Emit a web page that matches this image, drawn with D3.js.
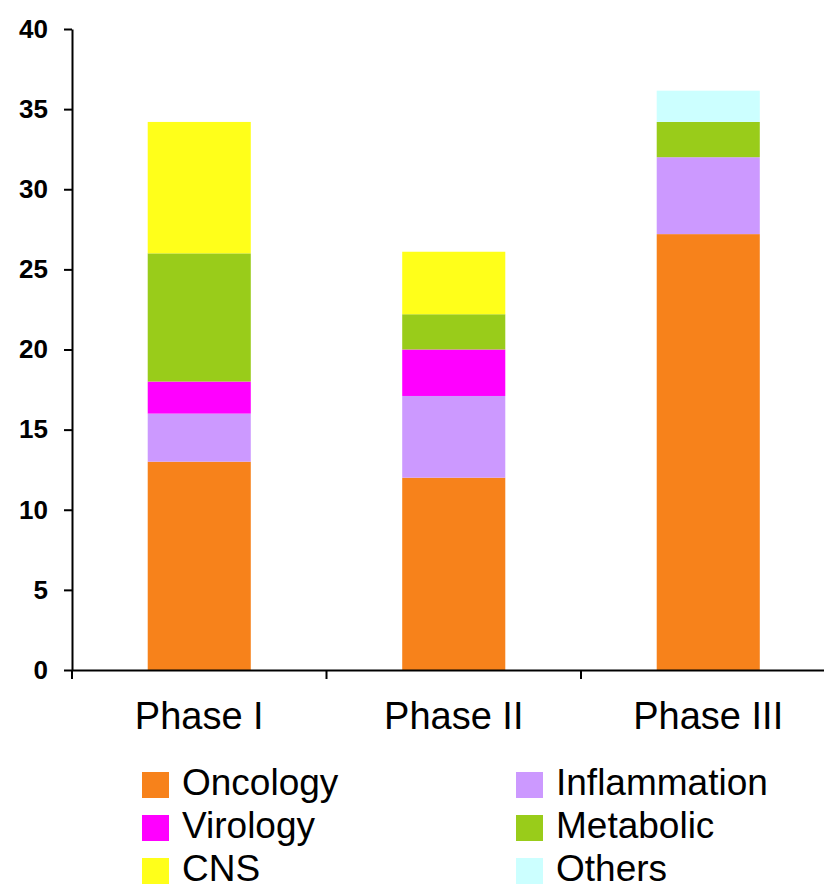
<!DOCTYPE html>
<html>
<head>
<meta charset="utf-8">
<script src="https://cdn.jsdelivr.net/npm/d3@7"></script>
<style>
  html, body { margin: 0; padding: 0; background: #fff; }
  svg { display: block; }
</style>
</head>
<body>
<svg id="chart" width="824" height="890"></svg>
<script>
const categories = ["Phase I", "Phase II", "Phase III"];
const seriesNames = ["Oncology", "Inflammation", "Virology", "Metabolic", "CNS", "Others"];
const oncology = [13, 12, 27.2];
const inflammation = [3, 5.1, 4.8];
const virology = [2, 2.9, 0];
const metabolic = [8, 2.2, 2.2];
const cns = [8.2, 3.9, 0];
const others = [0, 0, 1.95];
const yTicks = [0, 5, 10, 15, 20, 25, 30, 35, 40];
const colors = ["#F7821B", "#CC99FF", "#FF00FF", "#99CC1A", "#FFFF1A", "#CCFFFF"];

const seriesValues = [oncology, inflammation, virology, metabolic, cns, others];
const table = categories.map((c, i) => {
  const row = { category: c };
  seriesNames.forEach((s, j) => { row[s] = seriesValues[j][i]; });
  return row;
});

const svg = d3.select("#chart");
const x0 = 72, x1 = 835.5;
const x = d3.scaleBand().domain(categories).range([x0, x1]).padding(0);
const y = d3.scaleLinear().domain([0, 40]).range([670, 29]);
const color = d3.scaleOrdinal().domain(seriesNames).range(colors);
const barFrac = 0.405;

const stacked = d3.stack().keys(seriesNames)(table);

svg.append("g").selectAll("g").data(stacked).join("g")
  .attr("fill", d => color(d.key))
  .selectAll("rect").data(d => d).join("rect")
  .attr("x", d => x(d.data.category) + x.bandwidth() * (1 - barFrac) / 2)
  .attr("width", x.bandwidth() * barFrac)
  .attr("y", d => y(d[1]))
  .attr("height", d => y(d[0]) - y(d[1]));

// Y axis
const yAxis = svg.append("g").attr("transform", `translate(${x0},0)`)
  .call(d3.axisLeft(y).tickValues(yTicks).tickSize(8).tickPadding(16).tickSizeOuter(0));
yAxis.select(".domain").attr("stroke", "#000").attr("stroke-width", 2);
yAxis.selectAll(".tick line").attr("stroke", "#000").attr("stroke-width", 2);
yAxis.selectAll(".tick text")
  .attr("fill", "#000")
  .style("font-family", "'Liberation Sans', Arial, sans-serif")
  .style("font-weight", "bold")
  .style("font-size", "26px");

// X axis
const xAxis = svg.append("g").attr("transform", "translate(0,670)")
  .call(d3.axisBottom(x).tickSize(0).tickSizeOuter(0).tickPadding(0));
xAxis.select(".domain").attr("stroke", "#000").attr("stroke-width", 2);
xAxis.selectAll(".tick text").remove();
// category boundary ticks
const boundaries = categories.map(c => x(c));
svg.append("g").selectAll("line").data(boundaries).join("line")
  .attr("x1", d => d).attr("x2", d => d)
  .attr("y1", 670).attr("y2", 679)
  .attr("stroke", "#000").attr("stroke-width", 2);
// category labels
svg.append("g").selectAll("text").data(categories).join("text")
  .attr("x", d => x(d) + x.bandwidth() / 2)
  .attr("y", 729)
  .attr("text-anchor", "middle")
  .style("font-family", "'Liberation Sans', Arial, sans-serif")
  .style("font-size", "38px")
  .attr("fill", "#000")
  .text(d => d);

// Legend
const legendCols = [142, 516];
const legendRows = [795, 838, 881];
const legend = svg.append("g").selectAll("g").data(seriesNames).join("g")
  .attr("transform", (d, i) => `translate(${legendCols[i % 2]},${legendRows[Math.floor(i / 2)]})`);
legend.append("rect")
  .attr("x", 0).attr("y", -23).attr("width", 27).attr("height", 26)
  .attr("fill", d => color(d));
legend.append("text")
  .attr("x", 40).attr("y", 0)
  .style("font-family", "'Liberation Sans', Arial, sans-serif")
  .style("font-size", "37px")
  .attr("fill", "#000")
  .text(d => d);
</script>
</body>
</html>
